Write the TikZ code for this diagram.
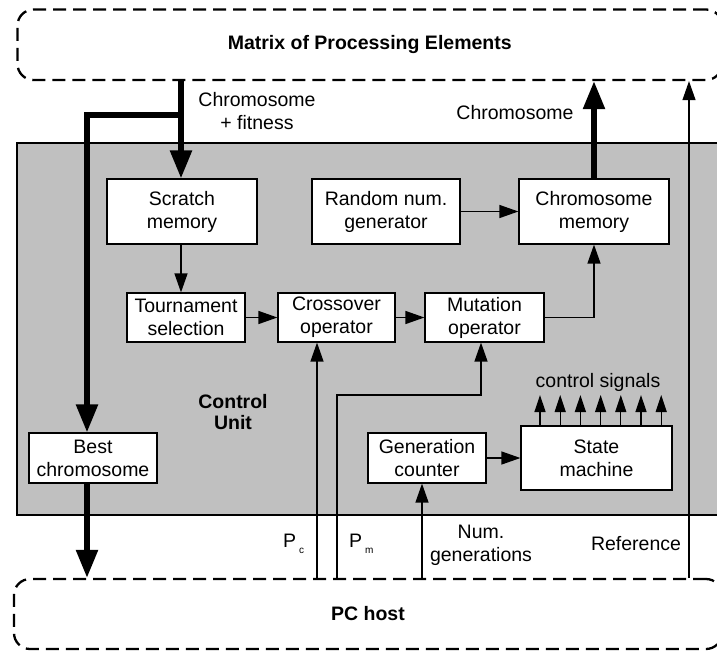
\documentclass[tikz,border=0pt]{standalone}
\usepackage{fontspec}
\setmainfont{Liberation Sans}
\usetikzlibrary{arrows.meta,calc}
\definecolor{cugray}{HTML}{C0C0C0}
\begin{document}
\begin{tikzpicture}[x=1pt,y=-1pt,
  every node/.style={font=\fontsize{19.5}{23}\selectfont},
  blk/.style={draw=black, line width=1.2pt, fill=white, align=center, inner sep=0pt},
  dbox/.style={draw=black, line width=2.3pt, dash pattern=on 13pt off 7pt, rounded corners=16pt, align=center, inner sep=0pt, font=\fontsize{19.5}{23}\selectfont\bfseries},
  thinarr/.style={line width=1.3pt, -{Triangle[width=13pt,length=19pt]}},
  smallarr/.style={line width=1.3pt, -{Triangle[width=11pt,length=17pt]}},
  fatarr/.style={line width=5.5pt, line join=miter, -{Triangle[width=21pt,length=28pt]}},
  lbl/.style={align=center, inner sep=0pt}
]
\useasboundingbox (0,0) rectangle (717,651);
\clip (0,0) rectangle (717,651);

% control unit background
\node[draw=black, line width=1.2pt, fill=cugray, minimum width=713pt, minimum height=372pt, inner sep=0pt] (cu) at (373.5,329) {};

% dashed boxes
\node[dbox, minimum width=704.5pt, minimum height=70.5pt] (mpe) at (369.75,44.75) {Matrix of Processing Elements};
\node[dbox, minimum width=708pt, minimum height=70pt] (pc) at (368,614) {PC host};

% blocks
\node[blk, minimum width=150pt, minimum height=65pt] (scratch) at (182,211.5) {Scratch\\memory};
\node[blk, minimum width=148pt, minimum height=65pt] (rng) at (386,211.5) {Random num.\\generator};
\node[blk, minimum width=150pt, minimum height=65pt] (chm) at (594,211.5) {Chromosome\\memory};
\node[blk, minimum width=118pt, minimum height=49pt] (tour) at (186,317.5) {Tournament\\selection};
\node[blk, minimum width=117pt, minimum height=49pt] (cross) at (336.5,317.5) {Crossover\\operator};
\node[blk, minimum width=119pt, minimum height=49pt] (mut) at (484.5,317.5) {Mutation\\operator};
\node[blk, minimum width=128pt, minimum height=50pt] (best) at (93,458) {Best\\chromosome};
\node[blk, minimum width=118pt, minimum height=50pt] (gen) at (427,458) {Generation\\counter};
\node[blk, minimum width=151pt, minimum height=64pt] (sm) at (596.5,458) {State\\machine};

% helper coordinates
\coordinate (tx) at (181,0);
\coordinate (bx) at (87,0);
\coordinate (br) at (181,115);
\coordinate (rx) at (689,0);
\coordinate (px) at (317,0);
\coordinate (pmk) at (337,395);
\coordinate (mi) at (481,0);
\coordinate (nx) at (422,0);

% thick connectors
\draw[fatarr] (mpe.south -| tx) -- (scratch.north -| tx);
\draw[fatarr] (br) -- (br -| bx) -- (best.north -| bx);
\draw[fatarr] (best.south -| bx) -- (pc.north -| bx);
\draw[fatarr] (chm.north) -- (chm.north |- mpe.south);

% thin connectors
\draw[thinarr] (scratch.south -| tx) -- (tour.north -| tx);
\draw[thinarr] (tour.east) -- (cross.west);
\draw[thinarr] (cross.east) -- (mut.west);
\draw[thinarr] (mut.east) -| (chm.south);
\draw[thinarr] (rng.east) -- (chm.west);
\draw[thinarr] (pc.north -| rx) -- (mpe.south -| rx);
\draw[thinarr] (pc.north -| px) -- (cross.south -| px);
\draw[thinarr] (pc.north -| pmk) -- (pmk) -| (mut.south -| mi);
\draw[thinarr] (pc.north -| nx) -- (gen.south -| nx);
\draw[thinarr] (gen.east) -- (sm.west);

% control signals
\foreach \i in {0,...,6} {
  \coordinate (cs\i) at ({540+\i*20.2},395);
  \draw[smallarr] (sm.north -| cs\i) -- (cs\i);
}

% labels
\node[lbl] (lcf) at (257,111) {Chromosome\\+ fitness};
\node[lbl] (lch) at (515,113) {Chromosome};
\node[lbl, font=\fontsize{19.5}{21}\selectfont\bfseries] (lcu) at (233,412) {Control\\Unit};
\node[anchor=base west, inner sep=0pt] (lpc) at (283,547) {P\hspace{3pt}\raisebox{-6pt}{\fontsize{10}{10}\selectfont c}};
\node[anchor=base west, inner sep=0pt] (lpm) at (349,547) {P\hspace{3pt}\raisebox{-6pt}{\fontsize{10}{10}\selectfont m}};
\node[lbl] (lng) at (481,545) {Num.\\generations};
\node[lbl] (lref) at (636,544) {Reference};
\node[lbl] (lcs) at (598,382) {control signals};
\end{tikzpicture}
\end{document}
